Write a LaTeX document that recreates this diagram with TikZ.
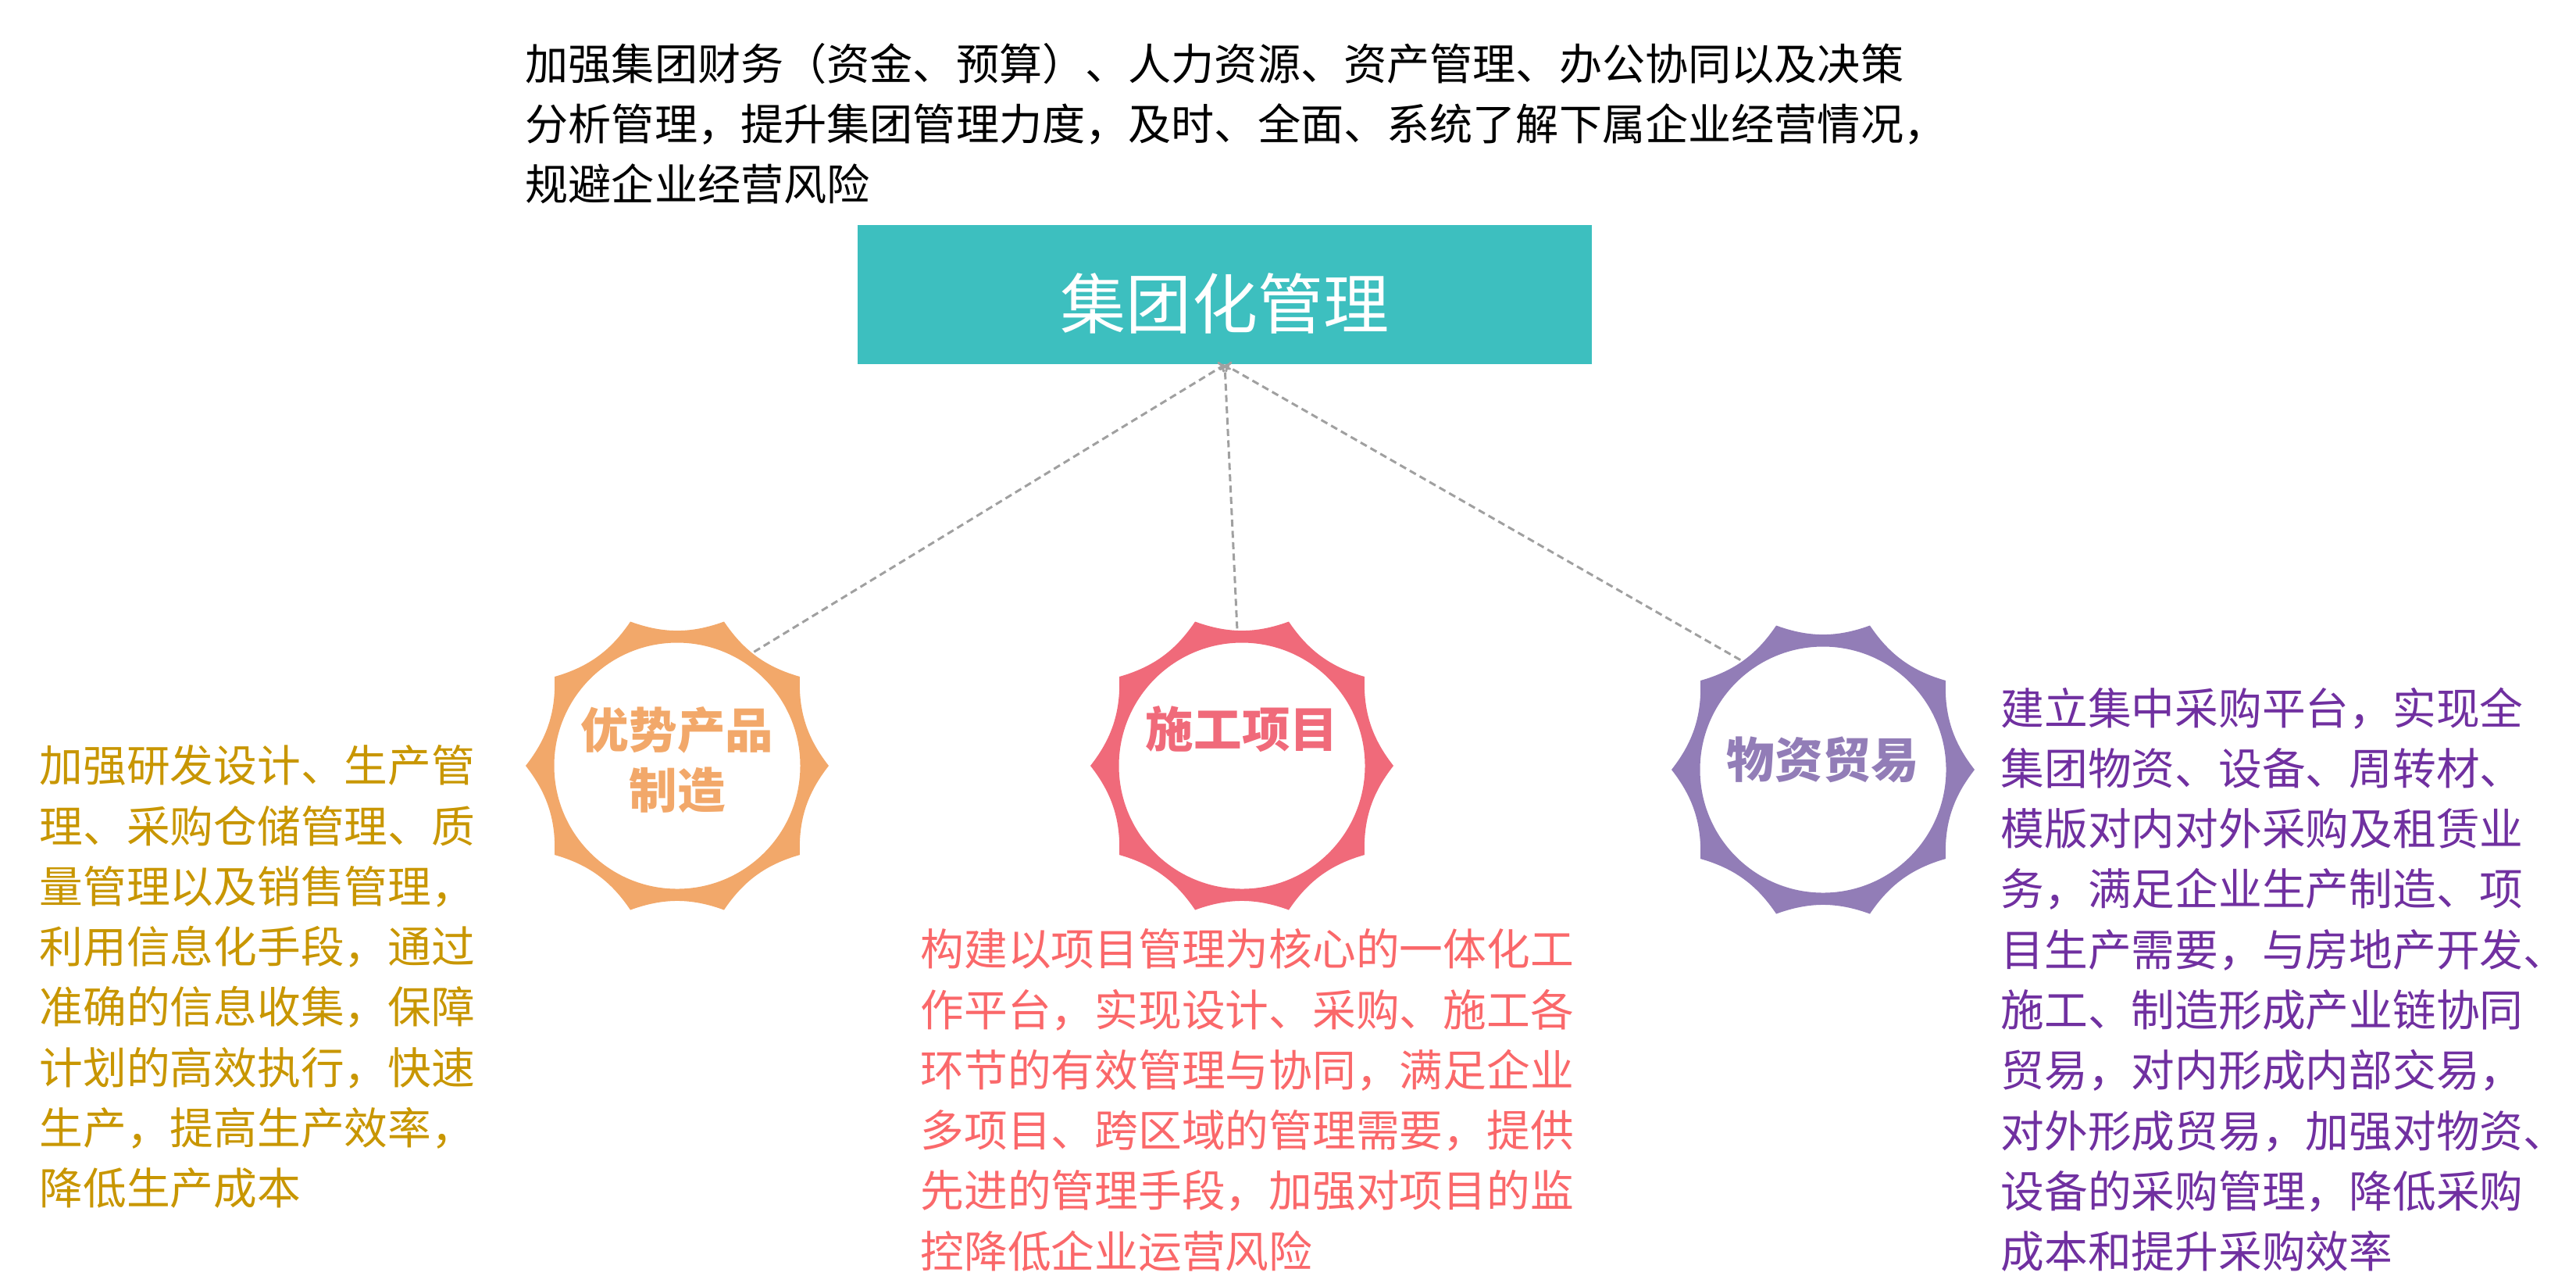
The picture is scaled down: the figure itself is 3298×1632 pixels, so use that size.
\documentclass[tikz,border=0pt]{standalone}
\usepackage{xcolor}
\usepackage{fontspec}
\setmainfont{Noto Sans CJK SC}
\usepackage{tikz}
\usetikzlibrary{arrows.meta, positioning}
\definecolor{myteal}{RGB}{61,191,191}
\definecolor{myorange}{RGB}{242,168,106}
\definecolor{mypink}{RGB}{240,106,122}
\definecolor{mylilac}{RGB}{146,125,183}
\definecolor{mygold}{RGB}{200,150,0}
\definecolor{mysalmon}{RGB}{250,104,106}
\definecolor{mypurple}{RGB}{112,48,160}
\definecolor{mygray}{RGB}{160,160,160}
\tikzset{
  topbox/.style={rectangle, fill=myteal, text=white, minimum width=9.4cm,
    minimum height=1.78cm, inner sep=0pt, text height=0.92cm, text depth=0.06cm,
    font=\fontsize{23.9}{28}\selectfont},
  gearnode/.style={circle, minimum size=3.5cm, inner sep=0pt},
  gearlabel/.style={align=center, inner sep=0pt,
    font=\bfseries\fontsize{17.5}{21.9}\selectfont},
  bodytext/.style={align=left, inner sep=0pt, anchor=north west,
    font=\fontsize{15.85}{21.97}\selectfont},
  dashlink/.style={draw=mygray, line width=0.85pt,
    dash pattern=on 0.09cm off 0.055cm, -{To[length=2pt,width=4.5pt]}}
}
\newcommand{\gearring}[2]{% centre, colour
  \fill[#2, even odd rule, shift={(#1)}] (0:194)
    \foreach \a in {0,36,...,324}{ .. controls (\a+12:170) and (\a+24:170) .. (\a+36:194)}
    -- cycle (0,0) circle (157.5);
}

\begin{document}
\begin{tikzpicture}[x=0.01cm, y=-0.01cm]
  \useasboundingbox (0,0) rectangle (3298,1632);
  % Top box and note
  \node[topbox] (group) at (1568,377) {集团化管理};
  \node[bodytext, font=\fontsize{15.68}{21.9}\selectfont] (groupnote) at (672,55)
    {加强集团财务（资金、预算）、人力资源、资产管理、办公协同以及决策\\
     分析管理，提升集团管理力度，及时、全面、系统了解下属企业经营情况，\\
     规避企业经营风险};
  % Gears
  \gearring{867,980}{myorange}
  \gearring{1590,980}{mypink}
  \gearring{2334,985}{mylilac}
  \node[gearnode] (prod) at (867,980) {};
  \node[gearnode] (proj) at (1590,980) {};
  \node[gearnode] (trade) at (2334,985) {};
  \node[gearlabel, text=myorange, yshift=0.07cm] (prodlbl) at (prod) {优势产品\\制造};
  \node[gearlabel, text=mypink, yshift=0.47cm] (projlbl) at (proj) {施工项目};
  \node[gearlabel, text=mylilac, yshift=0.13cm] (tradelbl) at (trade) {物资贸易};
  % Links
  \draw[dashlink] (prod.56) -- (group.south);
  \draw[dashlink] (proj.92) -- (group.south);
  \draw[dashlink] (trade.127) -- (group.south);
  % Notes
  \node[bodytext, text=mygold] (prodnote) at (50,953)
    {加强研发设计、生产管\\
     理、采购仓储管理、质\\
     量管理以及销售管理，\\
     利用信息化手段，通过\\
     准确的信息收集，保障\\
     计划的高效执行，快速\\
     生产，提高生产效率，\\
     降低生产成本};
  \node[bodytext, text=mysalmon] (projnote) at (1178,1188)
    {构建以项目管理为核心的一体化工\\
     作平台，实现设计、采购、施工各\\
     环节的有效管理与协同，满足企业\\
     多项目、跨区域的管理需要，提供\\
     先进的管理手段，加强对项目的监\\
     控降低企业运营风险};
  \node[bodytext, text=mypurple] (tradenote) at (2561,879)
    {建立集中采购平台，实现全\\
     集团物资、设备、周转材、\\
     模版对内对外采购及租赁业\\
     务，满足企业生产制造、项\\
     目生产需要，与房地产开发、\\
     施工、制造形成产业链协同\\
     贸易，对内形成内部交易，\\
     对外形成贸易，加强对物资、\\
     设备的采购管理，降低采购\\
     成本和提升采购效率};
\end{tikzpicture}
\end{document}
